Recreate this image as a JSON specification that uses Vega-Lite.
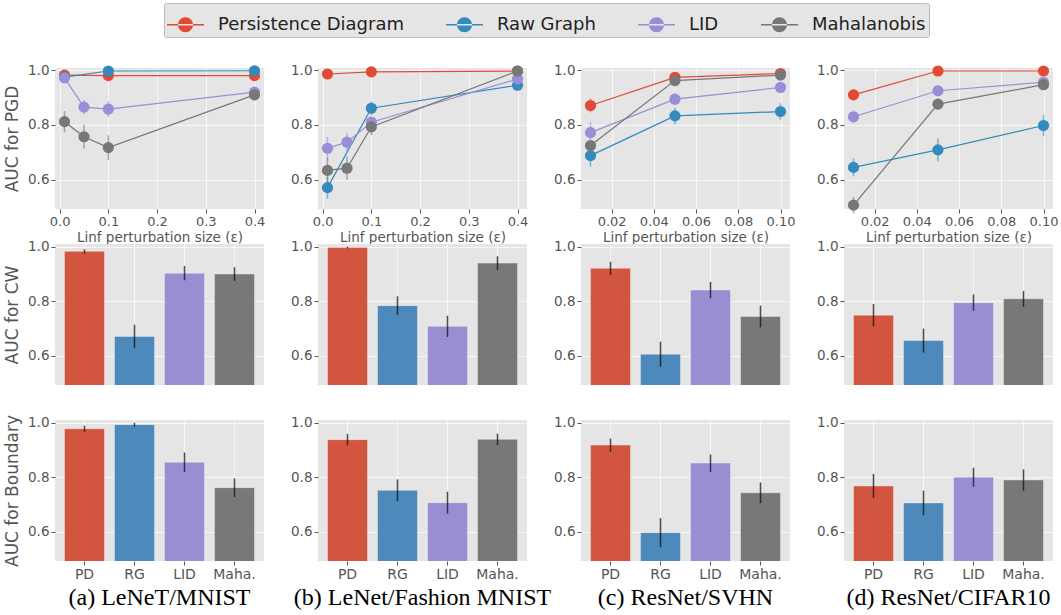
{
  "$schema": "https://vega.github.io/schema/vega-lite/v6.json",
  "padding": {"left": 3, "top": 2, "right": 0, "bottom": 2},
  "background": "#FFFFFF",
  "datasets": {
    "pgd": [
      {"ds": "a", "method": "Persistence Diagram", "eps": 0.01, "auc": 0.982, "err": 0.005},
      {"ds": "a", "method": "Persistence Diagram", "eps": 0.1, "auc": 0.98, "err": 0.005},
      {"ds": "a", "method": "Persistence Diagram", "eps": 0.4, "auc": 0.98, "err": 0.004},
      {"ds": "a", "method": "Raw Graph", "eps": 0.01, "auc": 0.975, "err": 0.005},
      {"ds": "a", "method": "Raw Graph", "eps": 0.1, "auc": 0.997, "err": 0.003},
      {"ds": "a", "method": "Raw Graph", "eps": 0.4, "auc": 0.998, "err": 0.002},
      {"ds": "a", "method": "LID", "eps": 0.01, "auc": 0.972, "err": 0.008},
      {"ds": "a", "method": "LID", "eps": 0.05, "auc": 0.865, "err": 0.026},
      {"ds": "a", "method": "LID", "eps": 0.1, "auc": 0.858, "err": 0.029},
      {"ds": "a", "method": "LID", "eps": 0.4, "auc": 0.92, "err": 0.012},
      {"ds": "a", "method": "Mahalanobis", "eps": 0.01, "auc": 0.812, "err": 0.039},
      {"ds": "a", "method": "Mahalanobis", "eps": 0.05, "auc": 0.757, "err": 0.043},
      {"ds": "a", "method": "Mahalanobis", "eps": 0.1, "auc": 0.717, "err": 0.045},
      {"ds": "a", "method": "Mahalanobis", "eps": 0.4, "auc": 0.91, "err": 0.015},

      {"ds": "b", "method": "Persistence Diagram", "eps": 0.01, "auc": 0.986, "err": 0.004},
      {"ds": "b", "method": "Persistence Diagram", "eps": 0.1, "auc": 0.994, "err": 0.003},
      {"ds": "b", "method": "Persistence Diagram", "eps": 0.4, "auc": 0.997, "err": 0.002},
      {"ds": "b", "method": "Raw Graph", "eps": 0.01, "auc": 0.571, "err": 0.04},
      {"ds": "b", "method": "Raw Graph", "eps": 0.1, "auc": 0.861, "err": 0.025},
      {"ds": "b", "method": "Raw Graph", "eps": 0.4, "auc": 0.945, "err": 0.02},
      {"ds": "b", "method": "LID", "eps": 0.01, "auc": 0.715, "err": 0.041},
      {"ds": "b", "method": "LID", "eps": 0.05, "auc": 0.737, "err": 0.034},
      {"ds": "b", "method": "LID", "eps": 0.1, "auc": 0.81, "err": 0.02},
      {"ds": "b", "method": "LID", "eps": 0.4, "auc": 0.968, "err": 0.01},
      {"ds": "b", "method": "Mahalanobis", "eps": 0.01, "auc": 0.634, "err": 0.046},
      {"ds": "b", "method": "Mahalanobis", "eps": 0.05, "auc": 0.642, "err": 0.043},
      {"ds": "b", "method": "Mahalanobis", "eps": 0.1, "auc": 0.793, "err": 0.03},
      {"ds": "b", "method": "Mahalanobis", "eps": 0.4, "auc": 0.997, "err": 0.003},

      {"ds": "c", "method": "Persistence Diagram", "eps": 0.01, "auc": 0.871, "err": 0.025},
      {"ds": "c", "method": "Persistence Diagram", "eps": 0.05, "auc": 0.974, "err": 0.006},
      {"ds": "c", "method": "Persistence Diagram", "eps": 0.1, "auc": 0.988, "err": 0.004},
      {"ds": "c", "method": "Raw Graph", "eps": 0.01, "auc": 0.688, "err": 0.04},
      {"ds": "c", "method": "Raw Graph", "eps": 0.05, "auc": 0.833, "err": 0.03},
      {"ds": "c", "method": "Raw Graph", "eps": 0.1, "auc": 0.849, "err": 0.03},
      {"ds": "c", "method": "LID", "eps": 0.01, "auc": 0.772, "err": 0.04},
      {"ds": "c", "method": "LID", "eps": 0.05, "auc": 0.894, "err": 0.02},
      {"ds": "c", "method": "LID", "eps": 0.1, "auc": 0.937, "err": 0.01},
      {"ds": "c", "method": "Mahalanobis", "eps": 0.01, "auc": 0.725, "err": 0.015},
      {"ds": "c", "method": "Mahalanobis", "eps": 0.05, "auc": 0.962, "err": 0.008},
      {"ds": "c", "method": "Mahalanobis", "eps": 0.1, "auc": 0.982, "err": 0.005},

      {"ds": "d", "method": "Persistence Diagram", "eps": 0.01, "auc": 0.91, "err": 0.02},
      {"ds": "d", "method": "Persistence Diagram", "eps": 0.05, "auc": 0.997, "err": 0.003},
      {"ds": "d", "method": "Persistence Diagram", "eps": 0.1, "auc": 0.997, "err": 0.003},
      {"ds": "d", "method": "Raw Graph", "eps": 0.01, "auc": 0.645, "err": 0.033},
      {"ds": "d", "method": "Raw Graph", "eps": 0.05, "auc": 0.709, "err": 0.042},
      {"ds": "d", "method": "Raw Graph", "eps": 0.1, "auc": 0.798, "err": 0.039},
      {"ds": "d", "method": "LID", "eps": 0.01, "auc": 0.83, "err": 0.025},
      {"ds": "d", "method": "LID", "eps": 0.05, "auc": 0.925, "err": 0.012},
      {"ds": "d", "method": "LID", "eps": 0.1, "auc": 0.956, "err": 0.008},
      {"ds": "d", "method": "Mahalanobis", "eps": 0.01, "auc": 0.507, "err": 0.03},
      {"ds": "d", "method": "Mahalanobis", "eps": 0.05, "auc": 0.876, "err": 0.02},
      {"ds": "d", "method": "Mahalanobis", "eps": 0.1, "auc": 0.947, "err": 0.008}
    ],
    "bars": [
      {"attack": "CW", "ds": "a", "m": "PD", "auc": 0.983, "err": 0.008},
      {"attack": "CW", "ds": "a", "m": "RG", "auc": 0.671, "err": 0.043},
      {"attack": "CW", "ds": "a", "m": "LID", "auc": 0.903, "err": 0.026},
      {"attack": "CW", "ds": "a", "m": "Maha.", "auc": 0.9, "err": 0.025},
      {"attack": "CW", "ds": "b", "m": "PD", "auc": 0.997, "err": 0.003},
      {"attack": "CW", "ds": "b", "m": "RG", "auc": 0.784, "err": 0.034},
      {"attack": "CW", "ds": "b", "m": "LID", "auc": 0.708, "err": 0.039},
      {"attack": "CW", "ds": "b", "m": "Maha.", "auc": 0.94, "err": 0.025},
      {"attack": "CW", "ds": "c", "m": "PD", "auc": 0.921, "err": 0.024},
      {"attack": "CW", "ds": "c", "m": "RG", "auc": 0.606, "err": 0.046},
      {"attack": "CW", "ds": "c", "m": "LID", "auc": 0.841, "err": 0.03},
      {"attack": "CW", "ds": "c", "m": "Maha.", "auc": 0.744, "err": 0.04},
      {"attack": "CW", "ds": "d", "m": "PD", "auc": 0.749, "err": 0.041},
      {"attack": "CW", "ds": "d", "m": "RG", "auc": 0.656, "err": 0.044},
      {"attack": "CW", "ds": "d", "m": "LID", "auc": 0.795, "err": 0.03},
      {"attack": "CW", "ds": "d", "m": "Maha.", "auc": 0.809, "err": 0.029},
      {"attack": "Boundary", "ds": "a", "m": "PD", "auc": 0.978, "err": 0.011},
      {"attack": "Boundary", "ds": "a", "m": "RG", "auc": 0.993, "err": 0.007},
      {"attack": "Boundary", "ds": "a", "m": "LID", "auc": 0.855, "err": 0.036},
      {"attack": "Boundary", "ds": "a", "m": "Maha.", "auc": 0.762, "err": 0.034},
      {"attack": "Boundary", "ds": "b", "m": "PD", "auc": 0.938, "err": 0.021},
      {"attack": "Boundary", "ds": "b", "m": "RG", "auc": 0.752, "err": 0.04},
      {"attack": "Boundary", "ds": "b", "m": "LID", "auc": 0.707, "err": 0.04},
      {"attack": "Boundary", "ds": "b", "m": "Maha.", "auc": 0.939, "err": 0.021},
      {"attack": "Boundary", "ds": "c", "m": "PD", "auc": 0.918, "err": 0.024},
      {"attack": "Boundary", "ds": "c", "m": "RG", "auc": 0.597, "err": 0.053},
      {"attack": "Boundary", "ds": "c", "m": "LID", "auc": 0.852, "err": 0.032},
      {"attack": "Boundary", "ds": "c", "m": "Maha.", "auc": 0.743, "err": 0.038},
      {"attack": "Boundary", "ds": "d", "m": "PD", "auc": 0.768, "err": 0.044},
      {"attack": "Boundary", "ds": "d", "m": "RG", "auc": 0.706, "err": 0.045},
      {"attack": "Boundary", "ds": "d", "m": "LID", "auc": 0.8, "err": 0.035},
      {"attack": "Boundary", "ds": "d", "m": "Maha.", "auc": 0.79, "err": 0.039}
    ]
  },
  "config": {
    "view": {"fill": "#E5E5E5", "stroke": null},
    "axis": {
      "domain": false, "grid": true, "gridColor": "#FFFFFF", "gridOpacity": 0.7, "gridWidth": 1,
      "tickColor": "#555555", "tickSize": 4, "labelColor": "#555555", "labelFont": "DejaVu Sans",
      "labelFontSize": 13.5, "labelPadding": 2, "titleFont": "DejaVu Sans", "titleColor": "#555555",
      "titleFontWeight": "normal", "titleFontSize": 13.5
    },
    "axisX": {"titlePadding": 2},
    "axisY": {"titleFontSize": 17, "titlePadding": 6},
    "legend": {"labelLimit": 400, "symbolOpacity": 1},
    "title": {"font": "Liberation Serif", "fontSize": 24, "color": "#000000", "fontWeight": "normal", "orient": "bottom", "offset": 5}
  },
  "columns": 4,
  "bounds": "flush",
  "spacing": {"row": 35, "column": 54},
  "concat": [
    {
      "width": 209, "height": 141,
      "data": {"name": "pgd"},
      "transform": [{"filter": "datum.ds === 'a'"}],
      "encoding": {
        "x": {"field": "eps", "type": "quantitative", "scale": {"domain": [-0.0095, 0.4195], "nice": false, "zero": false}, "axis": {"values": [0, 0.1, 0.2, 0.3, 0.4], "format": ".1f", "labelFontSize": 13, "title": "Linf perturbation size (ε)"}},
        "y": {"field": "auc", "type": "quantitative", "scale": {"domain": [0.493, 1.008], "nice": false, "zero": false}, "axis": {"values": [0.6, 0.8, 1.0], "format": ".1f", "title": "AUC for PGD"}},
        "color": {"field": "method", "type": "nominal", "sort": null,
          "scale": {"domain": ["Persistence Diagram", "Raw Graph", "LID", "Mahalanobis"], "range": ["#E24A33", "#348ABD", "#988ED5", "#777777"]},
          "legend": {"orient": "none", "legendX": 109, "legendY": -65, "direction": "horizontal", "title": null,
            "labelFont": "DejaVu Sans", "labelFontSize": 18, "labelColor": "#222222", "labelOffset": 14, "columnPadding": 42, "labelLimit": 400,
            "symbolType": "M-1,-0.045H1V0.045H-1Z M-0.405,0A0.405,0.405 0 1,0 0.405,0A0.405,0.405 0 1,0 -0.405,0Z",
            "symbolSize": 1369, "symbolStrokeWidth": 0, "symbolOpacity": 1, "fillColor": "#E5E5E5", "strokeColor": "#BBBBBB", "padding": 3, "cornerRadius": 2}}
      },
      "layer": [
        {"mark": {"type": "errorbar", "thickness": 1.5, "opacity": 0.6}, "encoding": {"yError": {"field": "err"}}},
        {"mark": {"type": "line", "strokeWidth": 1.2}},
        {"mark": {"type": "point", "filled": true, "size": 125, "opacity": 1}}
      ]
    },
    {
      "width": 209, "height": 141,
      "data": {"name": "pgd"},
      "transform": [{"filter": "datum.ds === 'b'"}],
      "encoding": {
        "x": {"field": "eps", "type": "quantitative", "scale": {"domain": [-0.0095, 0.4195], "nice": false, "zero": false}, "axis": {"values": [0, 0.1, 0.2, 0.3, 0.4], "format": ".1f", "labelFontSize": 13, "title": "Linf perturbation size (ε)"}},
        "y": {"field": "auc", "type": "quantitative", "scale": {"domain": [0.493, 1.008], "nice": false, "zero": false}, "axis": {"values": [0.6, 0.8, 1.0], "format": ".1f", "title": null}},
        "color": {"field": "method", "type": "nominal", "sort": null,
          "scale": {"domain": ["Persistence Diagram", "Raw Graph", "LID", "Mahalanobis"], "range": ["#E24A33", "#348ABD", "#988ED5", "#777777"]},
          "legend": {"orient": "none", "legendX": 109, "legendY": -65, "direction": "horizontal", "title": null,
            "labelFont": "DejaVu Sans", "labelFontSize": 18, "labelColor": "#222222", "labelOffset": 14, "columnPadding": 42, "labelLimit": 400,
            "symbolType": "M-1,-0.045H1V0.045H-1Z M-0.405,0A0.405,0.405 0 1,0 0.405,0A0.405,0.405 0 1,0 -0.405,0Z",
            "symbolSize": 1369, "symbolStrokeWidth": 0, "symbolOpacity": 1, "fillColor": "#E5E5E5", "strokeColor": "#BBBBBB", "padding": 3, "cornerRadius": 2}}
      },
      "layer": [
        {"mark": {"type": "errorbar", "thickness": 1.5, "opacity": 0.6}, "encoding": {"yError": {"field": "err"}}},
        {"mark": {"type": "line", "strokeWidth": 1.2}},
        {"mark": {"type": "point", "filled": true, "size": 125, "opacity": 1}}
      ]
    },
    {
      "width": 209, "height": 141,
      "data": {"name": "pgd"},
      "transform": [{"filter": "datum.ds === 'c'"}],
      "encoding": {
        "x": {"field": "eps", "type": "quantitative", "scale": {"domain": [0.0055, 0.1045], "nice": false, "zero": false}, "axis": {"values": [0.02, 0.04, 0.06, 0.08, 0.1], "format": ".2f", "labelFontSize": 13, "title": "Linf perturbation size (ε)"}},
        "y": {"field": "auc", "type": "quantitative", "scale": {"domain": [0.493, 1.008], "nice": false, "zero": false}, "axis": {"values": [0.6, 0.8, 1.0], "format": ".1f", "title": null}},
        "color": {"field": "method", "type": "nominal", "sort": null,
          "scale": {"domain": ["Persistence Diagram", "Raw Graph", "LID", "Mahalanobis"], "range": ["#E24A33", "#348ABD", "#988ED5", "#777777"]},
          "legend": {"orient": "none", "legendX": 109, "legendY": -65, "direction": "horizontal", "title": null,
            "labelFont": "DejaVu Sans", "labelFontSize": 18, "labelColor": "#222222", "labelOffset": 14, "columnPadding": 42, "labelLimit": 400,
            "symbolType": "M-1,-0.045H1V0.045H-1Z M-0.405,0A0.405,0.405 0 1,0 0.405,0A0.405,0.405 0 1,0 -0.405,0Z",
            "symbolSize": 1369, "symbolStrokeWidth": 0, "symbolOpacity": 1, "fillColor": "#E5E5E5", "strokeColor": "#BBBBBB", "padding": 3, "cornerRadius": 2}}
      },
      "layer": [
        {"mark": {"type": "errorbar", "thickness": 1.5, "opacity": 0.6}, "encoding": {"yError": {"field": "err"}}},
        {"mark": {"type": "line", "strokeWidth": 1.2}},
        {"mark": {"type": "point", "filled": true, "size": 125, "opacity": 1}}
      ]
    },
    {
      "width": 209, "height": 141,
      "data": {"name": "pgd"},
      "transform": [{"filter": "datum.ds === 'd'"}],
      "encoding": {
        "x": {"field": "eps", "type": "quantitative", "scale": {"domain": [0.0055, 0.1045], "nice": false, "zero": false}, "axis": {"values": [0.02, 0.04, 0.06, 0.08, 0.1], "format": ".2f", "labelFontSize": 13, "title": "Linf perturbation size (ε)"}},
        "y": {"field": "auc", "type": "quantitative", "scale": {"domain": [0.493, 1.008], "nice": false, "zero": false}, "axis": {"values": [0.6, 0.8, 1.0], "format": ".1f", "title": null}},
        "color": {"field": "method", "type": "nominal", "sort": null,
          "scale": {"domain": ["Persistence Diagram", "Raw Graph", "LID", "Mahalanobis"], "range": ["#E24A33", "#348ABD", "#988ED5", "#777777"]},
          "legend": {"orient": "none", "legendX": 109, "legendY": -65, "direction": "horizontal", "title": null,
            "labelFont": "DejaVu Sans", "labelFontSize": 18, "labelColor": "#222222", "labelOffset": 14, "columnPadding": 42, "labelLimit": 400,
            "symbolType": "M-1,-0.045H1V0.045H-1Z M-0.405,0A0.405,0.405 0 1,0 0.405,0A0.405,0.405 0 1,0 -0.405,0Z",
            "symbolSize": 1369, "symbolStrokeWidth": 0, "symbolOpacity": 1, "fillColor": "#E5E5E5", "strokeColor": "#BBBBBB", "padding": 3, "cornerRadius": 2}}
      },
      "layer": [
        {"mark": {"type": "errorbar", "thickness": 1.5, "opacity": 0.6}, "encoding": {"yError": {"field": "err"}}},
        {"mark": {"type": "line", "strokeWidth": 1.2}},
        {"mark": {"type": "point", "filled": true, "size": 125, "opacity": 1}}
      ]
    },
    {
      "width": 209, "height": 141,
      "data": {"name": "bars"},
      "transform": [{"filter": "datum.attack === 'CW' && datum.ds === 'a'"}],
      "encoding": {
        "x": {"field": "m", "type": "nominal", "sort": null, "scale": {"paddingInner": 0.2, "paddingOuter": 0.19}, "axis": {"labels": false, "ticks": false, "title": null, "grid": true}},
        "y": {"field": "auc", "type": "quantitative", "scale": {"domain": [0.493, 1.01], "nice": false, "zero": false}, "axis": {"values": [0.6, 0.8, 1.0], "format": ".1f", "title": "AUC for CW"}}
      },
      "layer": [
        {"mark": {"type": "bar", "clip": true, "stroke": "#FFFFFF", "strokeOpacity": 0.35, "strokeWidth": 1},
         "encoding": {"fill": {"field": "m", "type": "nominal", "legend": null, "scale": {"domain": ["PD", "RG", "LID", "Maha."], "range": ["#D25540", "#4D89BA", "#978FD2", "#787878"]}}}},
        {"mark": {"type": "errorbar", "color": "#111111", "thickness": 1.5, "opacity": 0.75}, "encoding": {"yError": {"field": "err"}}}
      ]
    },
    {
      "width": 209, "height": 141,
      "data": {"name": "bars"},
      "transform": [{"filter": "datum.attack === 'CW' && datum.ds === 'b'"}],
      "encoding": {
        "x": {"field": "m", "type": "nominal", "sort": null, "scale": {"paddingInner": 0.2, "paddingOuter": 0.19}, "axis": {"labels": false, "ticks": false, "title": null, "grid": true}},
        "y": {"field": "auc", "type": "quantitative", "scale": {"domain": [0.493, 1.01], "nice": false, "zero": false}, "axis": {"values": [0.6, 0.8, 1.0], "format": ".1f", "title": null}}
      },
      "layer": [
        {"mark": {"type": "bar", "clip": true, "stroke": "#FFFFFF", "strokeOpacity": 0.35, "strokeWidth": 1},
         "encoding": {"fill": {"field": "m", "type": "nominal", "legend": null, "scale": {"domain": ["PD", "RG", "LID", "Maha."], "range": ["#D25540", "#4D89BA", "#978FD2", "#787878"]}}}},
        {"mark": {"type": "errorbar", "color": "#111111", "thickness": 1.5, "opacity": 0.75}, "encoding": {"yError": {"field": "err"}}}
      ]
    },
    {
      "width": 209, "height": 141,
      "data": {"name": "bars"},
      "transform": [{"filter": "datum.attack === 'CW' && datum.ds === 'c'"}],
      "encoding": {
        "x": {"field": "m", "type": "nominal", "sort": null, "scale": {"paddingInner": 0.2, "paddingOuter": 0.19}, "axis": {"labels": false, "ticks": false, "title": null, "grid": true}},
        "y": {"field": "auc", "type": "quantitative", "scale": {"domain": [0.493, 1.01], "nice": false, "zero": false}, "axis": {"values": [0.6, 0.8, 1.0], "format": ".1f", "title": null}}
      },
      "layer": [
        {"mark": {"type": "bar", "clip": true, "stroke": "#FFFFFF", "strokeOpacity": 0.35, "strokeWidth": 1},
         "encoding": {"fill": {"field": "m", "type": "nominal", "legend": null, "scale": {"domain": ["PD", "RG", "LID", "Maha."], "range": ["#D25540", "#4D89BA", "#978FD2", "#787878"]}}}},
        {"mark": {"type": "errorbar", "color": "#111111", "thickness": 1.5, "opacity": 0.75}, "encoding": {"yError": {"field": "err"}}}
      ]
    },
    {
      "width": 209, "height": 141,
      "data": {"name": "bars"},
      "transform": [{"filter": "datum.attack === 'CW' && datum.ds === 'd'"}],
      "encoding": {
        "x": {"field": "m", "type": "nominal", "sort": null, "scale": {"paddingInner": 0.2, "paddingOuter": 0.19}, "axis": {"labels": false, "ticks": false, "title": null, "grid": true}},
        "y": {"field": "auc", "type": "quantitative", "scale": {"domain": [0.493, 1.01], "nice": false, "zero": false}, "axis": {"values": [0.6, 0.8, 1.0], "format": ".1f", "title": null}}
      },
      "layer": [
        {"mark": {"type": "bar", "clip": true, "stroke": "#FFFFFF", "strokeOpacity": 0.35, "strokeWidth": 1},
         "encoding": {"fill": {"field": "m", "type": "nominal", "legend": null, "scale": {"domain": ["PD", "RG", "LID", "Maha."], "range": ["#D25540", "#4D89BA", "#978FD2", "#787878"]}}}},
        {"mark": {"type": "errorbar", "color": "#111111", "thickness": 1.5, "opacity": 0.75}, "encoding": {"yError": {"field": "err"}}}
      ]
    },
    {
      "width": 209, "height": 141,
      "title": {"text": "(a) LeNeT/MNIST"},
      "data": {"name": "bars"},
      "transform": [{"filter": "datum.attack === 'Boundary' && datum.ds === 'a'"}],
      "encoding": {
        "x": {"field": "m", "type": "nominal", "sort": null, "scale": {"paddingInner": 0.2, "paddingOuter": 0.19}, "axis": {"labelAngle": 0, "title": null, "grid": true, "labelFontSize": 14}},
        "y": {"field": "auc", "type": "quantitative", "scale": {"domain": [0.493, 1.01], "nice": false, "zero": false}, "axis": {"values": [0.6, 0.8, 1.0], "format": ".1f", "title": "AUC for Boundary"}}
      },
      "layer": [
        {"mark": {"type": "bar", "clip": true, "stroke": "#FFFFFF", "strokeOpacity": 0.35, "strokeWidth": 1},
         "encoding": {"fill": {"field": "m", "type": "nominal", "legend": null, "scale": {"domain": ["PD", "RG", "LID", "Maha."], "range": ["#D25540", "#4D89BA", "#978FD2", "#787878"]}}}},
        {"mark": {"type": "errorbar", "color": "#111111", "thickness": 1.5, "opacity": 0.75}, "encoding": {"yError": {"field": "err"}}}
      ]
    },
    {
      "width": 209, "height": 141,
      "title": {"text": "(b) LeNet/Fashion MNIST"},
      "data": {"name": "bars"},
      "transform": [{"filter": "datum.attack === 'Boundary' && datum.ds === 'b'"}],
      "encoding": {
        "x": {"field": "m", "type": "nominal", "sort": null, "scale": {"paddingInner": 0.2, "paddingOuter": 0.19}, "axis": {"labelAngle": 0, "title": null, "grid": true, "labelFontSize": 14}},
        "y": {"field": "auc", "type": "quantitative", "scale": {"domain": [0.493, 1.01], "nice": false, "zero": false}, "axis": {"values": [0.6, 0.8, 1.0], "format": ".1f", "title": null}}
      },
      "layer": [
        {"mark": {"type": "bar", "clip": true, "stroke": "#FFFFFF", "strokeOpacity": 0.35, "strokeWidth": 1},
         "encoding": {"fill": {"field": "m", "type": "nominal", "legend": null, "scale": {"domain": ["PD", "RG", "LID", "Maha."], "range": ["#D25540", "#4D89BA", "#978FD2", "#787878"]}}}},
        {"mark": {"type": "errorbar", "color": "#111111", "thickness": 1.5, "opacity": 0.75}, "encoding": {"yError": {"field": "err"}}}
      ]
    },
    {
      "width": 209, "height": 141,
      "title": {"text": "(c) ResNet/SVHN"},
      "data": {"name": "bars"},
      "transform": [{"filter": "datum.attack === 'Boundary' && datum.ds === 'c'"}],
      "encoding": {
        "x": {"field": "m", "type": "nominal", "sort": null, "scale": {"paddingInner": 0.2, "paddingOuter": 0.19}, "axis": {"labelAngle": 0, "title": null, "grid": true, "labelFontSize": 14}},
        "y": {"field": "auc", "type": "quantitative", "scale": {"domain": [0.493, 1.01], "nice": false, "zero": false}, "axis": {"values": [0.6, 0.8, 1.0], "format": ".1f", "title": null}}
      },
      "layer": [
        {"mark": {"type": "bar", "clip": true, "stroke": "#FFFFFF", "strokeOpacity": 0.35, "strokeWidth": 1},
         "encoding": {"fill": {"field": "m", "type": "nominal", "legend": null, "scale": {"domain": ["PD", "RG", "LID", "Maha."], "range": ["#D25540", "#4D89BA", "#978FD2", "#787878"]}}}},
        {"mark": {"type": "errorbar", "color": "#111111", "thickness": 1.5, "opacity": 0.75}, "encoding": {"yError": {"field": "err"}}}
      ]
    },
    {
      "width": 209, "height": 141,
      "title": {"text": "(d) ResNet/CIFAR10"},
      "data": {"name": "bars"},
      "transform": [{"filter": "datum.attack === 'Boundary' && datum.ds === 'd'"}],
      "encoding": {
        "x": {"field": "m", "type": "nominal", "sort": null, "scale": {"paddingInner": 0.2, "paddingOuter": 0.19}, "axis": {"labelAngle": 0, "title": null, "grid": true, "labelFontSize": 14}},
        "y": {"field": "auc", "type": "quantitative", "scale": {"domain": [0.493, 1.01], "nice": false, "zero": false}, "axis": {"values": [0.6, 0.8, 1.0], "format": ".1f", "title": null}}
      },
      "layer": [
        {"mark": {"type": "bar", "clip": true, "stroke": "#FFFFFF", "strokeOpacity": 0.35, "strokeWidth": 1},
         "encoding": {"fill": {"field": "m", "type": "nominal", "legend": null, "scale": {"domain": ["PD", "RG", "LID", "Maha."], "range": ["#D25540", "#4D89BA", "#978FD2", "#787878"]}}}},
        {"mark": {"type": "errorbar", "color": "#111111", "thickness": 1.5, "opacity": 0.75}, "encoding": {"yError": {"field": "err"}}}
      ]
    }
  ]
}
